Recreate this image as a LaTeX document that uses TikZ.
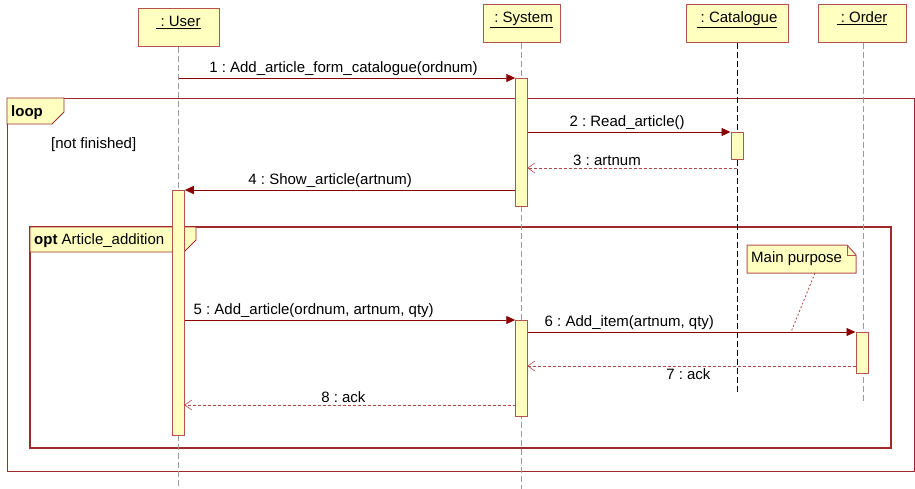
\documentclass[tikz,border=0pt]{standalone}
\usepackage{fontspec}
\setmainfont{Liberation Sans}
\usetikzlibrary{arrows.meta}
\frenchspacing
\definecolor{boxred}{HTML}{B5524F}
\definecolor{framered}{HTML}{9E2A2A}
\definecolor{msgred}{HTML}{8B0000}
\definecolor{retred}{HTML}{B04848}
\definecolor{lyellow}{HTML}{FFFFC0}
\definecolor{lifegray}{HTML}{9A9A9A}
\tikzset{
  objbox/.style={draw=boxred, fill=lyellow, line width=1pt, minimum height=38pt, inner sep=0pt, text height=11pt, text depth=14pt},
  lifeline/.style={draw=lifegray, line width=0.9pt, dash pattern=on 6pt off 3pt},
  actbar/.style={draw=boxred, fill=lyellow, line width=1pt, minimum width=11.5pt, inner sep=0pt, anchor=north},
  msg/.style={draw=msgred, line width=0.9pt, -{Triangle[length=9pt,width=8pt]}},
  ret/.style={draw=retred, line width=0.8pt, dash pattern=on 3pt off 2pt, -{Straight Barb[length=7pt,width=10pt,line width=0.6pt]}},
  lbl/.style={font=\fontsize{15}{18}\selectfont, text=black, inner sep=2pt},
  framebox/.style={draw=framered, line width=0.9pt},
  tab/.style={draw=framered, fill=lyellow, line width=0.9pt},
}
\begin{document}
\begin{tikzpicture}[x=1pt, y=-1pt]
\useasboundingbox (0,0) rectangle (915,489);
% frames
\draw[framebox] (7,98) rectangle (914,471);
\draw[tab] (7,98) -- (64,98) -- (64,112) -- (52,124) -- (7,124) -- cycle;
\node[lbl, anchor=west, font=\fontsize{15}{18}\selectfont\bfseries] (looplbl) at (9,113) {loop};
\node[lbl, anchor=west] (guard) at (49,145) {[not finished]};
\draw[framebox, line width=1.4pt] (30,227) rectangle (891,448);
\draw[tab] (30,227) -- (196,227) -- (196,240) -- (184,252) -- (30,252) -- cycle;
\node[lbl, anchor=west] (optlbl) at (32,241) {\textbf{opt} Article\_addition};
% objects
\node[objbox, minimum width=81pt, lbl] (user) at (178.5,28) {\underline{\ : User}};
\node[objbox, minimum width=77pt, lbl] (sys) at (521.5,24) {\underline{\ : System}};
\node[objbox, minimum width=102pt, lbl] (cat) at (737,24) {\underline{\ : Catalogue}};
\node[objbox, minimum width=88pt, lbl] (ord) at (862,24) {\underline{\ : Order}};
% lifeline ends
\coordinate (userend) at (178.5,489);
\coordinate (sysend) at (521.5,489);
\coordinate (catend) at (737,392);
\coordinate (ordend) at (863,401);
\draw[lifeline] (user.south) -- (userend);
\draw[lifeline] (sys.south) -- (sysend);
\draw[lifeline, draw=black] (cat.south) -- (catend);
\draw[lifeline] (ord.south -| ordend) -- (ordend);
% note
\draw[draw=boxred, fill=lyellow, line width=1pt] (747,245) -- (847,245) -- (856,255) -- (856,273) -- (747,273) -- cycle;
\draw[draw=boxred, line width=0.8pt] (847,245) -- (847,255) -- (856,255);
\node[lbl, anchor=west] (note) at (749,259) {Main purpose};
\coordinate (notefoot) at (815,273);
\coordinate (noteend) at (791,332);
\draw[draw=retred, line width=0.8pt, dash pattern=on 2pt off 2pt] (notefoot) -- (noteend);
% activations
\node[actbar, minimum height=128pt] (s1) at (521.5,78) {};
\node[actbar, minimum height=27pt, minimum width=12pt] (c1) at (737,132) {};
\node[actbar, minimum height=245pt] (u1) at (178.5,190) {};
\node[actbar, minimum height=96pt] (s2) at (521.5,320) {};
\node[actbar, minimum height=41pt, minimum width=12pt] (o1) at (862,332) {};
% message points
\coordinate (m1s) at (178.5,78);
\coordinate (m3s) at (737,168);
\coordinate (m3e) at (527.3,168);
\coordinate (m7s) at (856,366);
\coordinate (m7e) at (527.3,366);
\coordinate (m8s) at (515.7,405);
\coordinate (m8e) at (184.3,405);
% messages
\draw[msg] (m1s) -- (s1.north west) node[lbl, pos=0.49, above] {1 : Add\_article\_form\_catalogue(ordnum)};
\draw[msg] (s1.east |- c1.north) -- (c1.north west) node[lbl, pos=0.49, above] {2 : Read\_article()};
\draw[ret] (m3s) -- (m3e) node[lbl, pos=0.62, above] {3 : artnum};
\draw[msg] (s1.west |- u1.north) -- (u1.north east) node[lbl, pos=0.56, above] {4 : Show\_article(artnum)};
\draw[msg] (u1.east |- s2.north) -- (s2.north west) node[lbl, pos=0.39, above] {5 : Add\_article(ordnum, artnum, qty)};
\draw[msg] (s2.east |- o1.north) -- (o1.north west) node[lbl, pos=0.31, above] {6 : Add\_item(artnum, qty)};
\draw[ret] (m7s) -- (m7e) node[lbl, pos=0.51, below] {7 : ack};
\draw[ret] (m8s) -- (m8e) node[lbl, pos=0.52, above] {8 : ack};
\end{tikzpicture}
\end{document}
